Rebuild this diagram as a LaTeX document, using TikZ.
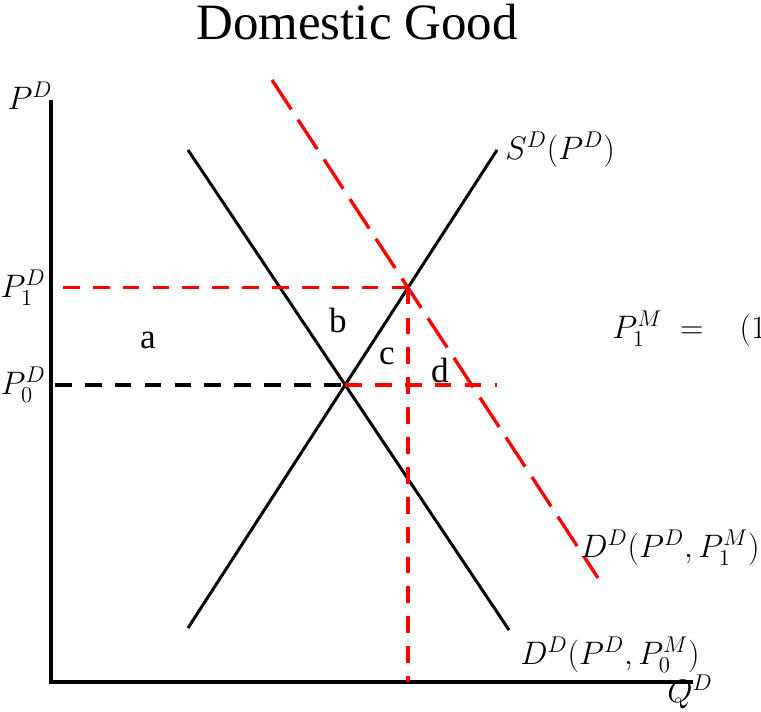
\documentclass[tikz,border=0pt]{standalone}
\usepackage{fix-cm}
\usepackage{amsmath}
\usepackage{fontspec}
\setmainfont{Liberation Serif}
\usetikzlibrary{positioning,calc}
\definecolor{dred}{HTML}{FF0000}
\tikzset{
  axis/.style  = {line width=2.3pt, black},
  curve/.style = {line width=1.7pt, black},
  newdem/.style = {line width=1.9pt, dred, dash pattern=on 20pt off 7pt},
  guide/.style = {line width=1.9pt, #1, dash pattern=on 9.5pt off 7.5pt},
  guide/.default = dred,
  lbl/.style   = {font=\fontsize{18.5}{22}\selectfont, inner sep=0pt},
  area/.style  = {font=\fontsize{20}{24}\selectfont, inner sep=0pt},
}

\begin{document}
\begin{tikzpicture}[x=1cm,y=1cm]
\useasboundingbox (0,0) rectangle (15.22,14.24);
\clip (0,0) rectangle (15.22,14.24);
% --- axes ---------------------------------------------------------------
\coordinate (O)    at (1.02,0.60);
\coordinate (Ptop) at (1.02,12.24);
\coordinate (Qend) at (13.86,0.60);
\draw[axis] (Ptop) -- (O) -- (Qend);
% --- supply and the two demand curves ------------------------------------
\coordinate (S0) at (3.76,1.68);
\coordinate (S1) at (9.94,11.24);
\coordinate (Da0) at (3.76,11.24);
\coordinate (Da1) at (10.18,1.64);
\coordinate (Db0) at (5.44,12.64);
\coordinate (Db1) at (11.96,2.68);
\coordinate (E0) at (intersection of S0--S1 and Da0--Da1);
\coordinate (E1) at (intersection of S0--S1 and Db0--Db1);
\draw[curve] (S0) -- (S1);
\draw[curve] (Da0) -- (Da1);
\draw[newdem] (Db0) -- (Db1);
% --- price levels ---------------------------------------------------------
\coordinate (P0a) at (1.10,0 |- E0);
\coordinate (P1a) at (1.26,0 |- E1);
\coordinate (P0b) at (9.94,0 |- E0);
\coordinate (E1q) at (E1 |- O);
\draw[guide=black] (P0a) -- (E0);
\draw[guide] (E0) -- (P0b);
\draw[guide] (P1a) -- (E1);
\draw[guide] (E1) -- (E1q);
% --- labels ----------------------------------------------------------------
\node[font=\fontsize{29}{34}\selectfont] (title) at (7.14,13.80) {Domestic Good};
\node[lbl] (pD) at (0.60,12.32) {$P^{D}$};
\node[lbl, anchor=east] (p1) at (0.92,0 |- E1) {$P_1^{D}$};
\node[lbl, anchor=east] (p0) at (0.92,0 |- E0) {$P_0^{D}$};
\node[lbl] (qD) at (13.80,0.40) {$Q^{D}$};
\node[lbl, anchor=west] (sD) at (10.10,11.24) {$S^{D}(P^{D})$};
\node[lbl, anchor=west] (d1) at (11.60,3.28) {$D^{D}(P^{D},P_1^{M})$};
\node[lbl, anchor=west] (d0) at (10.40,1.14) {$D^{D}(P^{D},P_0^{M})$};
\node[lbl, anchor=west] (pM) at (12.24,7.66) {$P_1^{M} \;=\;\;\;(1$};
% --- welfare areas -----------------------------------------------------------
\node[area] (ar) at (2.96,7.44) {a};
\node[area] (br) at (6.76,7.84) {b};
\node[area] (cr) at (7.74,7.12) {c};
\node[area] (dr) at (8.80,6.84) {d};
\end{tikzpicture}
\end{document}
